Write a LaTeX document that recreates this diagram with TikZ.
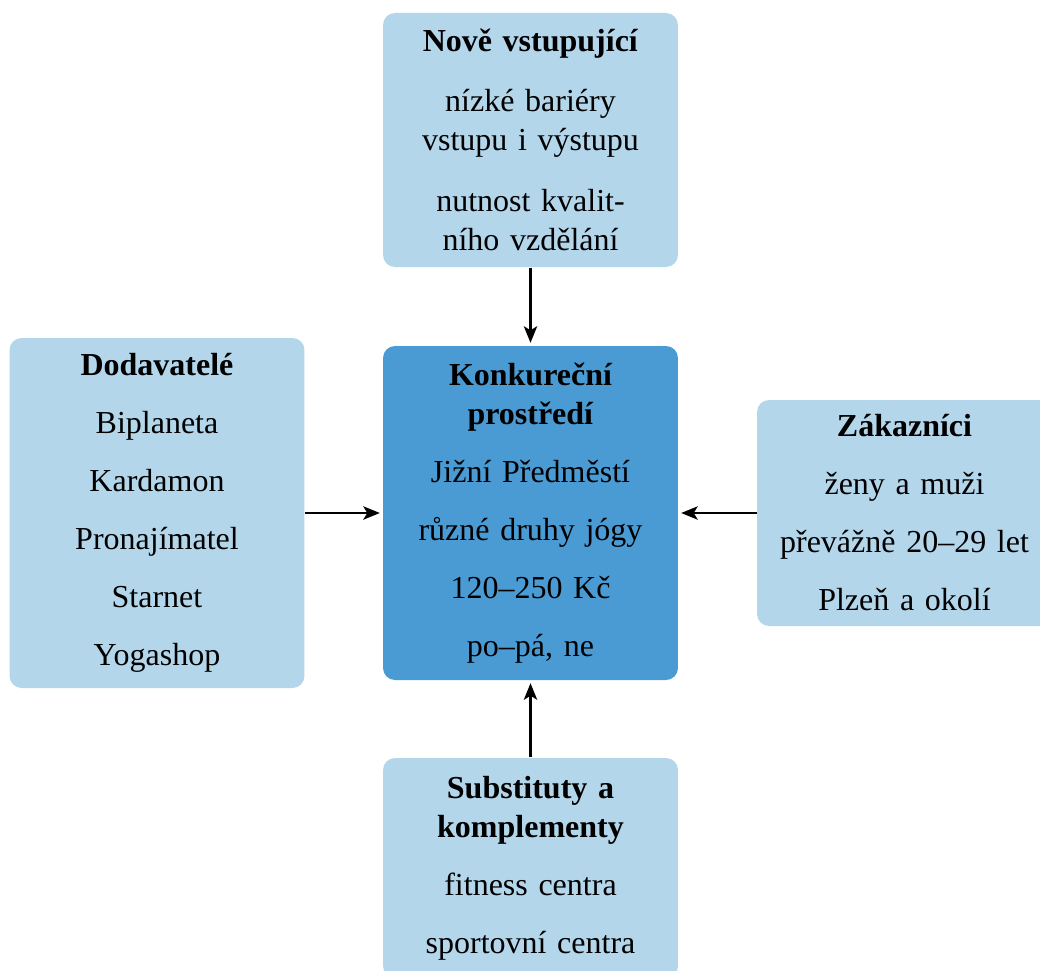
\documentclass[tikz,border=0pt]{standalone}
\usepackage{fontspec}
\setmainfont{Liberation Serif}
\usetikzlibrary{arrows.meta}
\definecolor{boxlight}{RGB}{179,214,235}
\definecolor{boxdark}{RGB}{74,155,211}
\begin{document}
\begin{tikzpicture}[x=0.375pt,y=-0.375pt,
  force/.style={fill=boxlight, rounded corners=4.5pt, draw=none,
    text width=100pt, inner xsep=5.3pt, inner ysep=0pt, align=center,
    font=\fontsize{12}{14.5}\selectfont, anchor=center},
  core/.style={force, fill=boxdark},
  link/.style={-{Stealth[length=6.2pt,width=5pt,inset=1.5pt]}, line width=0.8pt, shorten >=1pt}]
\useasboundingbox (0,0) rectangle (1040,970);
\clip (0,0) rectangle (1040,970);

% central box
\node[core, minimum height=125.25pt] (mid) at (530.5,513)
  {\textbf{Konkureční\\prostředí}\\[7.25pt]
   Jižní Předměstí\\[7.25pt]
   různé druhy jógy\\[7.25pt]
   120–250 Kč\\[7.25pt]
   po–pá, ne};

% surrounding forces
\node[force, minimum height=95.25pt] (top) at (530.5,140)
  {\textbf{Nově vstupující}\\[8pt]
   nízké bariéry\\vstupu i výstupu\\[8.5pt]
   nutnost kvalit-\\ního vzdělání};

\node[force, minimum height=131.25pt] (left) at (157,513)
  {\textbf{Dodavatelé}\\[7.25pt]
   Biplaneta\\[7.25pt]
   Kardamon\\[7.25pt]
   Pronajímatel\\[7.25pt]
   Starnet\\[7.25pt]
   Yogashop};

\node[force, minimum height=84.75pt] (right) at (904.5,513)
  {\textbf{Zákazníci}\\[7.25pt]
   ženy a muži\\[7.25pt]
   převážně 20–29 let\\[7.25pt]
   Plzeň a okolí};

\node[force, minimum height=82.5pt] (bottom) at (530.5,868)
  {\textbf{Substituty a\\komplementy}\\[7.25pt]
   fitness centra\\[7.25pt]
   sportovní centra};

% influences on the competitive environment
\draw[link] (top.south) -- (mid.north);
\draw[link] (left.east) -- (mid.west);
\draw[link] (right.west) -- (mid.east);
\draw[link] (bottom.north) -- (mid.south);
\end{tikzpicture}
\end{document}
